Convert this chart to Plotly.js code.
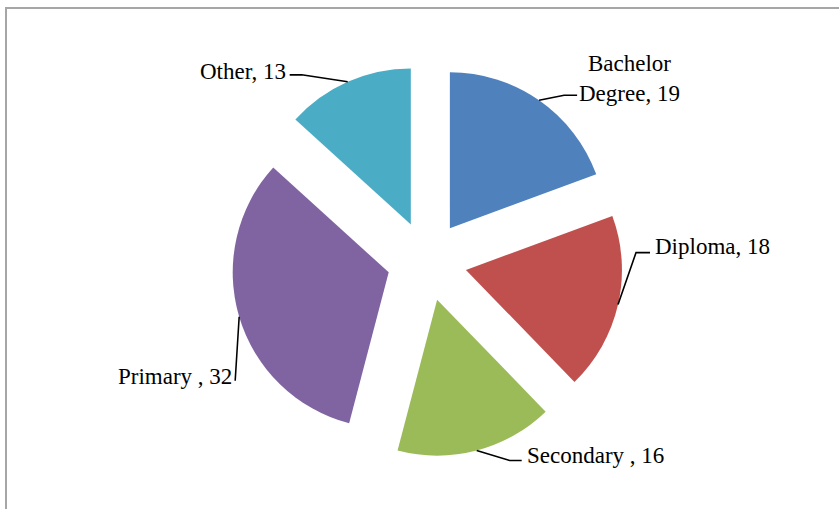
<!DOCTYPE html>
<html>
<head>
<meta charset="utf-8">
<script src="https://cdn.plot.ly/plotly-3.0.1.min.js"></script>
<style>html,body{margin:0;padding:0;background:#fff;}#chart{width:839px;height:509px;}</style>
</head>
<body>
<div id="chart"></div>
<script>
// ---- data ----
const categories = ["Bachelor Degree", "Diploma", "Secondary ", "Primary ", "Other"];
const labelText = ["Bachelor<br>Degree, 19", "Diploma, 18", "Secondary , 16", "Primary , 32", "Other, 13"];
const values = [19, 18, 16, 32, 13];
const colors = ["#4F81BD", "#C0504D", "#9BBB59", "#8064A2", "#4BACC6"];

// ---- layout geometry (pixels) ----
const W = 839, H = 509;
const CX = 427, CY = 261, R = 156, PULL = 0.256;
const box = R * (2 + 2 * PULL);

// label styling: leader elbow offsets from arc anchor, text offset and anchor
const labelStyle = [
  {pts: [[25, -5], [38, -5]], txt: [90, -22], xa: "center"},
  {pts: [[18, -52], [32, -52]], txt: [35, -58], xa: "left"},
  {pts: [[33, 10], [45, 10]], txt: [48, 5], xa: "left"},
  {pts: [[-4, 64]], txt: [-5, 60], xa: "right"},
  {pts: [[-46, -7], [-58, -7]], txt: [-60, -10], xa: "right"}
];

const px = x => x / W;
const py = y => 1 - y / H;

const total = values.reduce((a, b) => a + b, 0);
const shapes = [{
  type: "rect", xref: "paper", yref: "paper",
  x0: px(6), x1: 1.1, y0: -0.1, y1: py(8),
  line: {color: "#a6a6a6", width: 2}, fillcolor: "rgba(0,0,0,0)"
}];
const annotations = [];
let cum = 0;
values.forEach((v, i) => {
  const mid = (cum + v / 2) / total * 2 * Math.PI;
  cum += v;
  const dx = Math.sin(mid), dy = -Math.cos(mid);
  const ax = CX + R * (1 + PULL) * dx, ay = CY + R * (1 + PULL) * dy;
  const st = labelStyle[i];
  let path = "M" + px(ax) + "," + py(ay);
  st.pts.forEach(p => { path += " L" + px(ax + p[0]) + "," + py(ay + p[1]); });
  shapes.push({type: "path", xref: "paper", yref: "paper", path: path,
    line: {color: "#000", width: 1.6}});
  annotations.push({
    xref: "paper", yref: "paper",
    x: px(ax + st.txt[0]), y: py(ay + st.txt[1]),
    xanchor: st.xa, yanchor: "middle", align: "center",
    text: labelText[i], showarrow: false,
    font: {family: "Liberation Serif, Times New Roman, serif", size: 23, color: "#000"}
  });
});

const trace = {
  type: "pie",
  labels: categories,
  values: values,
  sort: false,
  direction: "clockwise",
  rotation: 0,
  pull: values.map(() => PULL),
  marker: {colors: colors, line: {width: 0}},
  textinfo: "none",
  hoverinfo: "label+value",
  showlegend: false,
  domain: {
    x: [(CX - box / 2) / W, (CX + box / 2) / W],
    y: [1 - (CY + box / 2) / H, 1 - (CY - box / 2) / H]
  }
};

Plotly.newPlot("chart", [trace], {
  width: W, height: H,
  margin: {l: 0, r: 0, t: 0, b: 0},
  paper_bgcolor: "#fff",
  showlegend: false,
  shapes: shapes,
  annotations: annotations
}, {staticPlot: true});
</script>
</body>
</html>
